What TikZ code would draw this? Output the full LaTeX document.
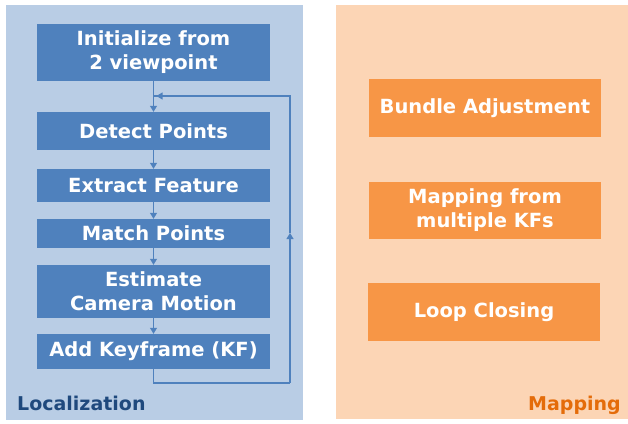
\documentclass[tikz,border=0pt]{standalone}
\usepackage{fontspec}
\setmainfont{DejaVu Sans}
\usetikzlibrary{arrows.meta}
\definecolor{lpanel}{HTML}{B9CDE5}
\definecolor{lbox}{HTML}{4F81BD}
\definecolor{ltext}{HTML}{1F497D}
\definecolor{rpanel}{HTML}{FCD5B5}
\definecolor{rbox}{HTML}{F79646}
\definecolor{rtext}{HTML}{E46C0A}
\tikzset{
  bbox/.style={fill=lbox, text=white, font=\bfseries\fontsize{19.5}{24}\selectfont, minimum width=233pt, align=center, inner sep=0pt},
  obox/.style={fill=rbox, text=white, font=\bfseries\fontsize{19.5}{24}\selectfont, minimum width=232pt, minimum height=58pt, align=center, inner sep=0pt},
  flow/.style={draw=lbox, line width=1.1pt, -{Triangle[width=7pt,length=6pt]}},
  plain/.style={draw=lbox, line width=1.1pt}
}
\begin{document}
\begin{tikzpicture}[x=1pt,y=-1pt]
\useasboundingbox (0,0) rectangle (628,423);
\fill[white] (0,0) rectangle (628,423);
\fill[lpanel] (6,5) rectangle (303,420);
\fill[rpanel] (336,5) rectangle (628,419);
\node[bbox, minimum height=57pt] (init) at (153.5,52.5) {Initialize from\\2 viewpoint};
\node[bbox, minimum height=38pt] (detect) at (153.5,131) {Detect Points};
\node[bbox, minimum height=33pt] (extract) at (153.5,185.5) {Extract Feature};
\node[bbox, minimum height=29pt] (match) at (153.5,233.5) {Match Points};
\node[bbox, minimum height=53pt] (est) at (153.5,291.5) {Estimate\\Camera Motion};
\node[bbox, minimum height=35pt] (kf) at (153.5,351.5) {Add Keyframe (KF)};
\node[obox] (ba) at (485,108) {Bundle Adjustment};
\node[obox, minimum height=57pt] (map) at (485,210.5) {Mapping from\\multiple KFs};
\node[obox] (loop) at (484,312) {Loop Closing};
\node[anchor=base west, text=ltext, font=\bfseries\fontsize{19}{22}\selectfont, inner sep=0pt] (loc) at (17,410) {Localization};
\node[anchor=base east, text=rtext, font=\bfseries\fontsize{19}{22}\selectfont, inner sep=0pt] (mp) at (621,410) {Mapping};
\draw[flow] (init) -- (detect);
\draw[flow] (detect) -- (extract);
\draw[flow] (extract) -- (match);
\draw[flow] (match) -- (est);
\draw[flow] (est) -- (kf);
\coordinate (c1) at (290,383);
\coordinate (c2) at (290,233);
\coordinate (c3) at (290,96);
\coordinate (c4) at (153.5,96);
\draw[plain] (kf.south) |- (c1);
\draw[flow] (c1) -- (c2);
\draw[plain] (c2) -- (c3) -- (c4);
\draw[flow] (c3) -- ([xshift=3pt]c4);
\end{tikzpicture}
\end{document}
